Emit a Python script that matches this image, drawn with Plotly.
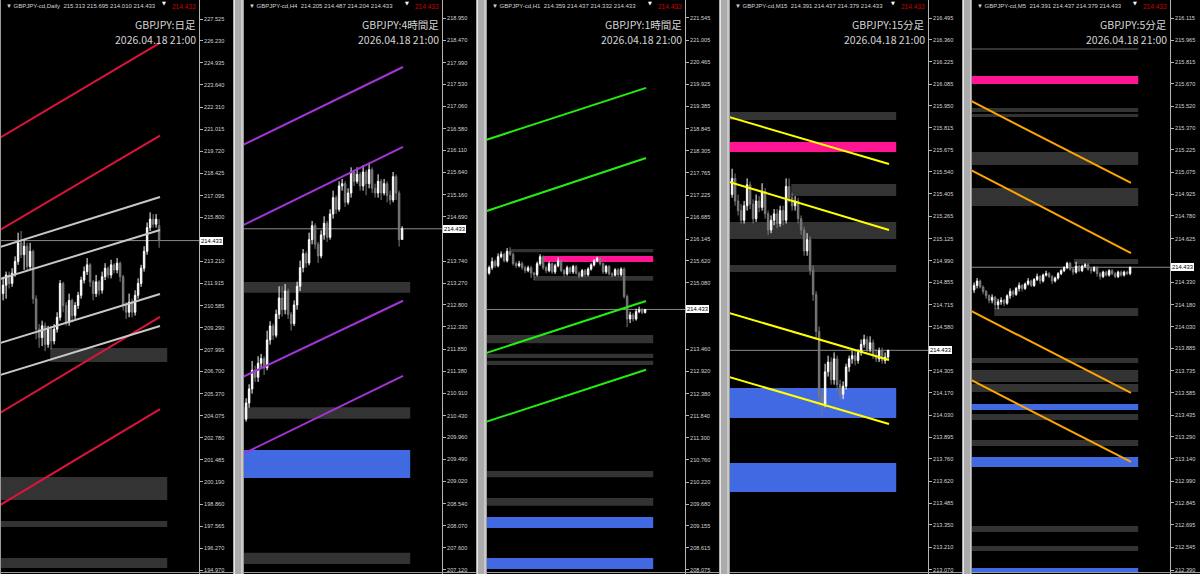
import plotly.graph_objects as go

W, H = 1200, 574

# ------------------------------------------------------------------ data
SYMBOL = "GBPJPY"
TF_CODES = ["Daily", "H4", "H1", "M15", "M5"]
TF_LABELS = ["日足", "4時間足", "1時間足", "15分足", "5分足"]
TIMESTAMP = "2026.04.18 21:00"
LAST_PRICE = 214.433
HEADER_OHLC = [
    [215.313, 215.695, 214.010, 214.433],
    [214.205, 214.487, 214.204, 214.433],
    [214.359, 214.437, 214.332, 214.433],
    [214.391, 214.437, 214.379, 214.433],
    [214.391, 214.437, 214.379, 214.433],
]

# Daily candles
d1_open = [211.3, 211.8, 212.4, 211.9, 212.5, 213.2, 214.3, 213.6, 214.1, 212.9, 213.8, 211.0, 209.2, 208.7,
           209.4, 208.3, 209.2, 208.5, 209.2, 209.9, 211.9, 210.6, 209.6, 210.9, 210.0, 210.6, 211.2, 212.1,
           212.6, 213.0, 212.0, 211.3, 212.0, 211.5, 212.3, 212.8, 212.4, 213.0, 212.7, 213.1, 212.3, 210.6,
           210.2, 210.8, 210.2, 211.2, 211.9, 212.8, 213.8, 215.2, 215.7, 215.4, 215.313]
d1_high = [212.3, 212.6, 212.6, 212.8, 213.5, 214.9, 215.0, 214.5, 214.3, 214.3, 213.9, 211.2, 209.5, 209.7,
           209.6, 209.4, 209.4, 209.5, 210.2, 212.1, 212.0, 210.8, 211.3, 211.0, 210.8, 211.4, 212.3, 212.9,
           213.4, 213.1, 212.1, 212.4, 212.1, 212.6, 213.1, 212.9, 213.3, 213.1, 213.4, 213.2, 212.4, 210.8,
           211.3, 211.0, 211.5, 212.2, 213.0, 214.1, 215.5, 216.1, 216.0, 216.0, 215.695]
d1_low = [210.9, 211.0, 211.6, 211.7, 212.3, 213.0, 213.4, 212.7, 212.6, 212.7, 210.7, 208.6, 208.1, 208.2,
          207.9, 208.1, 208.0, 208.3, 209.0, 209.7, 210.2, 209.4, 209.4, 209.6, 209.8, 210.4, 211.0, 211.9,
          212.4, 211.7, 210.9, 211.1, 211.2, 211.3, 212.1, 212.2, 212.2, 212.5, 212.5, 212.0, 210.3, 209.8,
          209.9, 209.9, 210.0, 211.0, 211.7, 212.6, 213.6, 215.0, 215.2, 215.2, 214.010]
d1_close = [211.8, 212.4, 211.9, 212.5, 213.2, 214.3, 213.6, 214.1, 212.9, 213.8, 211.0, 209.2, 208.7, 209.4,
            208.3, 209.2, 208.5, 209.2, 209.9, 211.9, 210.6, 209.6, 210.9, 210.0, 210.6, 211.2, 212.1, 212.6,
            213.0, 212.0, 211.3, 212.0, 211.5, 212.3, 212.8, 212.4, 213.0, 212.7, 213.1, 212.3, 210.6, 210.2,
            210.8, 210.2, 211.2, 211.9, 212.8, 213.8, 215.2, 215.7, 215.4, 215.7, 214.433]

# H4 candles
h4_open = [210.35, 210.70, 211.00, 211.40, 211.25, 211.55, 211.65, 211.45, 212.05, 212.35, 212.15, 212.60,
           212.95, 212.70, 213.10, 212.60, 212.40, 212.80, 213.20, 213.60, 213.90, 213.70, 214.20, 214.50,
           214.10, 213.85, 214.30, 214.55, 214.25, 214.75, 215.10, 214.85, 215.35, 215.40, 215.00, 215.20,
           215.65, 215.45, 215.60, 215.35, 215.65, 215.40, 215.70, 215.30, 215.20, 215.45, 215.20, 215.40,
           215.15, 215.05, 215.55, 215.20, 214.205]
h4_high = [210.80, 211.10, 211.60, 211.50, 211.70, 211.75, 211.70, 212.25, 212.45, 212.40, 212.70, 213.20,
           213.20, 213.25, 213.15, 212.65, 212.90, 213.30, 213.75, 214.00, 213.95, 214.35, 214.60, 214.55,
           214.15, 214.40, 214.70, 214.60, 214.85, 215.25, 215.15, 215.45, 215.50, 215.45, 215.30, 215.75,
           215.70, 215.75, 215.65, 215.80, 215.70, 215.85, 215.75, 215.40, 215.60, 215.50, 215.50, 215.45,
           215.25, 215.65, 215.60, 215.25, 214.487]
h4_low = [210.30, 210.60, 210.90, 211.15, 211.15, 211.45, 211.30, 211.40, 211.95, 212.05, 212.10, 212.50,
          212.55, 212.60, 212.50, 212.25, 212.35, 212.70, 213.10, 213.50, 213.60, 213.65, 214.10, 214.00,
          213.70, 213.80, 214.20, 214.15, 214.20, 214.65, 214.75, 214.80, 215.25, 214.90, 214.95, 215.10,
          215.35, 215.40, 215.25, 215.25, 215.15, 215.30, 215.20, 215.10, 215.10, 215.05, 215.15, 215.00,
          214.95, 215.00, 215.05, 214.05, 214.204]
h4_close = [210.70, 211.00, 211.40, 211.25, 211.55, 211.65, 211.45, 212.05, 212.35, 212.15, 212.60, 212.95,
            212.70, 213.10, 212.60, 212.40, 212.80, 213.20, 213.60, 213.90, 213.70, 214.20, 214.50, 214.10,
            213.85, 214.30, 214.55, 214.25, 214.75, 215.10, 214.85, 215.35, 215.40, 215.00, 215.20, 215.65,
            215.45, 215.60, 215.35, 215.65, 215.40, 215.70, 215.30, 215.20, 215.45, 215.20, 215.40, 215.15,
            215.05, 215.55, 215.20, 214.20, 214.433]

# H1 candles
h1_open = [215.32, 215.45, 215.60, 215.50, 215.72, 215.78, 215.62, 215.85, 215.78, 215.55, 215.50, 215.55,
           215.45, 215.38, 215.45, 215.32, 215.28, 215.55, 215.72, 215.45, 215.38, 215.55, 215.35, 215.50,
           215.62, 215.38, 215.30, 215.45, 215.35, 215.48, 215.32, 215.25, 215.38, 215.28, 215.42, 215.52,
           215.62, 215.68, 215.55, 215.35, 215.48, 215.30, 215.27, 215.40, 215.28, 215.42, 214.75, 214.20,
           214.30, 214.20, 214.38, 214.42, 214.359]
h1_high = [215.50, 215.70, 215.65, 215.80, 215.85, 215.82, 215.93, 215.95, 215.82, 215.60, 215.62, 215.60,
           215.50, 215.50, 215.50, 215.35, 215.60, 215.78, 215.75, 215.50, 215.60, 215.58, 215.55, 215.70,
           215.65, 215.42, 215.50, 215.48, 215.52, 215.52, 215.36, 215.42, 215.42, 215.46, 215.56, 215.66,
           215.72, 215.70, 215.58, 215.52, 215.52, 215.34, 215.44, 215.44, 215.46, 215.46, 214.80, 214.38,
           214.34, 214.45, 214.50, 214.46, 214.437]
h1_low = [215.28, 215.40, 215.45, 215.46, 215.68, 215.58, 215.58, 215.74, 215.50, 215.44, 215.46, 215.40,
          215.32, 215.34, 215.20, 215.15, 215.24, 215.50, 215.40, 215.32, 215.34, 215.30, 215.30, 215.46,
          215.34, 215.24, 215.26, 215.30, 215.30, 215.28, 215.20, 215.22, 215.24, 215.24, 215.38, 215.48,
          215.58, 215.50, 215.30, 215.30, 215.26, 215.22, 215.24, 215.24, 215.24, 214.70, 214.00, 214.10,
          214.14, 214.16, 214.34, 214.32, 214.332]
h1_close = [215.45, 215.60, 215.50, 215.72, 215.78, 215.62, 215.85, 215.78, 215.55, 215.50, 215.55, 215.45,
            215.38, 215.45, 215.32, 215.28, 215.55, 215.72, 215.45, 215.38, 215.55, 215.35, 215.50, 215.62,
            215.38, 215.30, 215.45, 215.35, 215.48, 215.32, 215.25, 215.38, 215.28, 215.42, 215.52, 215.62,
            215.68, 215.55, 215.35, 215.48, 215.30, 215.27, 215.40, 215.28, 215.42, 214.75, 214.20, 214.30,
            214.20, 214.38, 214.42, 214.36, 214.433]

# M15 candles
m15_open = [215.40, 215.50, 215.36, 215.30, 215.24, 215.33, 215.46, 215.34, 215.25, 215.36, 215.32, 215.42,
            215.28, 215.18, 215.24, 215.28, 215.22, 215.30, 215.24, 215.45, 215.38, 215.33, 215.36, 215.25,
            215.18, 215.05, 215.12, 214.93, 214.78, 214.55, 214.15, 214.10, 214.30, 214.36, 214.25, 214.38,
            214.22, 214.16, 214.21, 214.33, 214.38, 214.40, 214.37, 214.42, 214.47, 214.50, 214.44, 214.48,
            214.40, 214.38, 214.43, 214.37, 214.391]
m15_high = [215.56, 215.53, 215.40, 215.34, 215.36, 215.50, 215.48, 215.37, 215.40, 215.39, 215.47, 215.44,
            215.30, 215.27, 215.31, 215.31, 215.33, 215.33, 215.50, 215.50, 215.41, 215.39, 215.38, 215.27,
            215.20, 215.16, 215.14, 214.96, 214.80, 214.58, 214.20, 214.35, 214.40, 214.39, 214.42, 214.40,
            214.25, 214.24, 214.35, 214.40, 214.43, 214.43, 214.44, 214.50, 214.53, 214.52, 214.52, 214.50,
            214.44, 214.45, 214.45, 214.42, 214.437]
m15_low = [215.38, 215.33, 215.27, 215.22, 215.22, 215.30, 215.31, 215.22, 215.23, 215.29, 215.30, 215.25,
           215.15, 215.16, 215.21, 215.19, 215.20, 215.21, 215.22, 215.35, 215.30, 215.30, 215.22, 215.15,
           215.02, 215.02, 214.90, 214.74, 214.50, 214.08, 214.03, 214.08, 214.27, 214.22, 214.22, 214.18,
           214.12, 214.13, 214.19, 214.30, 214.35, 214.34, 214.35, 214.40, 214.45, 214.42, 214.42, 214.38,
           214.36, 214.36, 214.35, 214.35, 214.379]
m15_close = [215.50, 215.36, 215.30, 215.24, 215.33, 215.46, 215.34, 215.25, 215.36, 215.32, 215.42, 215.28,
             215.18, 215.24, 215.28, 215.22, 215.30, 215.24, 215.45, 215.38, 215.33, 215.36, 215.25, 215.18,
             215.05, 215.12, 214.93, 214.78, 214.55, 214.15, 214.10, 214.30, 214.36, 214.25, 214.38, 214.22,
             214.16, 214.21, 214.33, 214.38, 214.40, 214.37, 214.42, 214.47, 214.50, 214.44, 214.48, 214.40,
             214.38, 214.43, 214.37, 214.391, 214.433]

# M5 candles
m5_open = [214.28, 214.31, 214.34, 214.30, 214.27, 214.24, 214.21, 214.23, 214.18, 214.20, 214.21, 214.19,
           214.24, 214.27, 214.25, 214.29, 214.31, 214.29, 214.32, 214.34, 214.31, 214.35, 214.37, 214.34,
           214.38, 214.39, 214.37, 214.34, 214.36, 214.39, 214.41, 214.43, 214.46, 214.42, 214.40, 214.44,
           214.41, 214.44, 214.45, 214.42, 214.41, 214.43, 214.39, 214.37, 214.40, 214.38, 214.41, 214.39,
           214.37, 214.40, 214.38, 214.40, 214.391]
m5_high = [214.33, 214.36, 214.35, 214.31, 214.28, 214.25, 214.25, 214.24, 214.22, 214.23, 214.22, 214.25,
           214.29, 214.28, 214.30, 214.33, 214.32, 214.33, 214.36, 214.35, 214.36, 214.39, 214.38, 214.39,
           214.41, 214.40, 214.38, 214.37, 214.40, 214.42, 214.44, 214.47, 214.47, 214.43, 214.47, 214.45,
           214.45, 214.46, 214.46, 214.43, 214.44, 214.44, 214.40, 214.41, 214.41, 214.42, 214.42, 214.40,
           214.41, 214.41, 214.41, 214.41, 214.437]
m5_low = [214.26, 214.29, 214.29, 214.25, 214.22, 214.19, 214.19, 214.15, 214.15, 214.18, 214.17, 214.18,
          214.22, 214.23, 214.24, 214.27, 214.27, 214.28, 214.31, 214.30, 214.30, 214.34, 214.32, 214.33,
          214.37, 214.36, 214.32, 214.33, 214.35, 214.38, 214.40, 214.42, 214.41, 214.38, 214.39, 214.40,
          214.40, 214.43, 214.41, 214.39, 214.40, 214.37, 214.35, 214.36, 214.37, 214.37, 214.38, 214.36,
          214.36, 214.37, 214.37, 214.38, 214.379]
m5_close = [214.31, 214.34, 214.30, 214.27, 214.24, 214.21, 214.23, 214.18, 214.20, 214.21, 214.19, 214.24,
            214.27, 214.25, 214.29, 214.31, 214.29, 214.32, 214.34, 214.31, 214.35, 214.37, 214.34, 214.38,
            214.39, 214.37, 214.34, 214.36, 214.39, 214.41, 214.43, 214.46, 214.42, 214.40, 214.44, 214.41,
            214.44, 214.45, 214.42, 214.41, 214.43, 214.39, 214.37, 214.40, 214.38, 214.41, 214.39, 214.37,
            214.40, 214.38, 214.40, 214.391, 214.433]

# Trend / channel lines: price at the start bar and at the end bar
LINE_BARS = [-1.0, 52.3]
d1_line_start = [220.52, 215.06, 204.25, 198.81, 214.05, 212.16, 208.38, 206.49]
d1_line_end = [226.11, 220.64, 209.92, 204.48, 217.01, 215.06, 211.28, 209.39]
d1_line_kind = ["red", "red", "red", "red", "silver", "silver", "silver", "silver"]
h4_line_start = [216.23, 214.51, 211.26, 209.61]
h4_line_end = [217.90, 216.19, 212.89, 211.28]
h1_line_start = [218.57, 216.83, 213.37, 211.69]
h1_line_end = [219.84, 218.13, 214.64, 212.96]
m15_line_start = [215.881, 215.478, 214.665, 214.268]
m15_line_end = [215.589, 215.180, 214.373, 213.976]
m5_line_start = [215.555, 215.089, 214.138, 213.672]
m5_line_end = [215.002, 214.529, 213.585, 213.119]

# Supply / demand zones
ZONE_END_BAR = 54.7
d1_zone_top = [208.09, 200.47, 197.87, 195.68]
d1_zone_bot = [207.26, 199.11, 197.51, 195.09]
d1_zone_from = [15.7, -1, -1, -1]
d1_zone_kind = ["gray", "gray", "gray", "gray"]
h4_zone_top = [213.29, 210.61, 209.69, 207.49]
h4_zone_bot = [213.06, 210.36, 209.09, 207.25]
h4_zone_from = [-1, -1, -1, -1]
h4_zone_kind = ["gray", "gray", "blue", "gray"]
h1_zone_top = [215.91, 215.74, 215.25, 213.81, 213.35, 213.18, 210.49, 209.83, 209.37, 208.37]
h1_zone_bot = [215.83, 215.59, 215.13, 213.61, 213.25, 213.08, 210.34, 209.64, 209.10, 208.10]
h1_zone_from = [7.3, 18.3, 15.0, -1, -1, -1, -1, -1, -1, -1]
h1_zone_kind = ["gray", "pink", "gray", "gray", "gray", "gray", "gray", "gray", "blue", "blue"]
m15_zone_top = [215.912, 215.726, 215.465, 215.230, 214.963, 214.200, 213.734]
m15_zone_bot = [215.862, 215.664, 215.391, 215.124, 214.919, 214.013, 213.554]
m15_zone_from = [-1, -1, 19.7, -1, -1, -1, -1]
m15_zone_kind = ["gray", "pink", "gray", "gray", "gray", "blue", "blue"]
m5_zone_top = [215.913, 215.724, 215.508, 215.467, 215.211, 214.968, 214.489, 214.158, 213.821, 213.740,
               213.645, 213.510, 213.443, 213.267, 213.153, 212.687, 212.552, 212.404]
m5_zone_bot = [215.899, 215.670, 215.481, 215.447, 215.123, 214.846, 214.455, 214.104, 213.787, 213.659,
               213.591, 213.470, 213.402, 213.227, 213.085, 212.647, 212.518, 212.370]
m5_zone_from = [-1, -1, -1, -1, -1, -1, 33.3, 6.7, -1, -1, -1, -1, -1, -1, -1, -1, -1, -1]
m5_zone_kind = ["gray", "pink", "gray", "gray", "gray", "gray", "gray", "gray", "gray", "gray",
                "gray", "blue", "gray", "gray", "blue", "gray", "gray", "blue"]

# Price-axis tick labels
d1_ticks = [227.525, 226.230, 224.935, 223.640, 222.310, 221.015, 219.720, 218.425, 217.095, 215.800,
            213.210, 211.915, 210.585, 209.290, 207.995, 206.700, 205.370, 204.075, 202.780, 201.485,
            200.190, 198.860, 197.565, 196.270, 194.970]
h4_ticks = [218.950, 218.470, 217.990, 217.530, 217.060, 216.580, 216.110, 215.640, 215.160, 214.690,
            213.740, 213.270, 212.800, 212.330, 211.850, 211.380, 210.910, 210.430, 209.960,
            209.490, 209.020, 208.540, 208.070, 207.600, 207.120]
h1_ticks = [221.545, 221.005, 220.465, 219.925, 219.385, 218.845, 218.305, 217.765, 217.225, 216.685,
            216.145, 215.620, 215.080, 213.460, 212.920, 212.380, 211.840, 211.300, 210.760,
            210.220, 209.680, 209.155, 208.615, 208.075]
m15_ticks = [216.495, 216.360, 216.225, 216.085, 215.950, 215.815, 215.675, 215.540, 215.405, 215.265,
             215.125, 214.990, 214.855, 214.715, 214.580, 214.305, 214.170, 214.030, 213.895, 213.760,
             213.620, 213.485, 213.350, 213.210, 213.070]
m5_ticks = [216.115, 215.965, 215.815, 215.670, 215.520, 215.370, 215.225, 215.075, 214.925, 214.780,
            214.625, 214.330, 214.180, 214.030, 213.885, 213.735, 213.585, 213.435, 213.290,
            213.140, 212.990, 212.845, 212.695, 212.545, 212.390]

# ------------------------------------------------------------------ layout / style
PANEL_LEFT = [1, 244, 487, 730, 972]       # pixel x of each chart area
PLOT_W = 198                               # chart area width (px)
Y_RANGES = [[194.734, 228.648], [207.034, 219.336], [207.977, 221.984],
            [213.045, 216.607], [212.363, 216.2365]]
X_RANGE = [-0.7, 65.3]
LINE_COLORS = [{"red": "#DC143C", "silver": "#C8C8C8"}, "#A335D6", "#22EE11", "#FFFF00", "#FFA500"]
ZONE_COLORS = {"gray": "#333333", "blue": "#4169E1", "pink": "#FF1493"}
TXT = "#D4D4D4"

panels = [
    dict(o=d1_open, h=d1_high, l=d1_low, c=d1_close, ls=d1_line_start, le=d1_line_end, lk=d1_line_kind,
         zt=d1_zone_top, zb=d1_zone_bot, zf=d1_zone_from, zk=d1_zone_kind, ticks=d1_ticks),
    dict(o=h4_open, h=h4_high, l=h4_low, c=h4_close, ls=h4_line_start, le=h4_line_end, lk=None,
         zt=h4_zone_top, zb=h4_zone_bot, zf=h4_zone_from, zk=h4_zone_kind, ticks=h4_ticks),
    dict(o=h1_open, h=h1_high, l=h1_low, c=h1_close, ls=h1_line_start, le=h1_line_end, lk=None,
         zt=h1_zone_top, zb=h1_zone_bot, zf=h1_zone_from, zk=h1_zone_kind, ticks=h1_ticks),
    dict(o=m15_open, h=m15_high, l=m15_low, c=m15_close, ls=m15_line_start, le=m15_line_end, lk=None,
         zt=m15_zone_top, zb=m15_zone_bot, zf=m15_zone_from, zk=m15_zone_kind, ticks=m15_ticks),
    dict(o=m5_open, h=m5_high, l=m5_low, c=m5_close, ls=m5_line_start, le=m5_line_end, lk=None,
         zt=m5_zone_top, zb=m5_zone_bot, zf=m5_zone_from, zk=m5_zone_kind, ticks=m5_ticks),
]

fig = go.Figure()
shapes, annotations = [], []
layout = dict(width=W, height=H, margin=dict(l=0, r=0, t=0, b=0), paper_bgcolor="#000000",
              plot_bgcolor="#000000", showlegend=False, boxgap=0.3)


def px(x):
    return x / W


def py(y):
    return 1 - y / H


for k, p in enumerate(panels):
    n = k + 1
    xa = "x" if n == 1 else f"x{n}"
    ya = "y" if n == 1 else f"y{n}"
    L = PANEL_LEFT[k]
    R = L + PLOT_W
    nb = min(len(p["o"]), len(p["h"]), len(p["l"]), len(p["c"]))
    bars = list(range(nb))

    # zones (background)
    for top, bot, x0, kind in zip(p["zt"], p["zb"], p["zf"], p["zk"]):
        shapes.append(dict(type="rect", xref=xa, yref=ya, x0=x0, x1=ZONE_END_BAR, y0=bot, y1=top,
                           fillcolor=ZONE_COLORS[kind], line=dict(width=0), layer="below"))

    # current price line
    shapes.append(dict(type="line", xref=f"{xa} domain", yref=ya, x0=0, x1=1, y0=LAST_PRICE, y1=LAST_PRICE,
                       line=dict(color="#8a8a8a", width=1), layer="below"))

    fig.add_trace(go.Candlestick(
        x=bars, open=p["o"][:nb], high=p["h"][:nb], low=p["l"][:nb], close=p["c"][:nb],
        xaxis=xa, yaxis=ya, whiskerwidth=0,
        increasing=dict(line=dict(color="#FFFFFF", width=1), fillcolor="#FFFFFF"),
        decreasing=dict(line=dict(color="#7C7C7C", width=1), fillcolor="#6A6A6A"),
        hoverinfo="skip"))

    for i, (s, e) in enumerate(zip(p["ls"], p["le"])):
        col = LINE_COLORS[k][p["lk"][i]] if isinstance(LINE_COLORS[k], dict) else LINE_COLORS[k]
        fig.add_trace(go.Scatter(x=LINE_BARS, y=[s, e], mode="lines", xaxis=xa, yaxis=ya,
                                 line=dict(color=col, width=2), hoverinfo="skip"))

    xkey = "xaxis" if n == 1 else f"xaxis{n}"
    ykey = "yaxis" if n == 1 else f"yaxis{n}"
    layout[xkey] = dict(domain=[px(L), px(R)], range=X_RANGE, anchor=ya, visible=False,
                        rangeslider=dict(visible=False), fixedrange=True)
    layout[ykey] = dict(domain=[0, 1], range=Y_RANGES[k], anchor=xa, side="right", showline=True,
                        linecolor="#B4B4B4", linewidth=1, ticks="outside", ticklen=3, tickcolor="#B4B4B4",
                        tickvals=p["ticks"], ticktext=[f"{v:.3f}" for v in p["ticks"]],
                        tickfont=dict(family="Liberation Sans", size=5.6, color=TXT),
                        showgrid=False, zeroline=False, fixedrange=True)

    # panel frame lines (left, bottom) and the separator to the next window
    fr = L + 232 if n < 5 else W
    shapes.append(dict(type="line", xref="paper", yref="paper", x0=px(L - 0.5), x1=px(L - 0.5), y0=0, y1=1,
                       line=dict(color="#9A9A9A", width=1)))
    shapes.append(dict(type="line", xref="paper", yref="paper", x0=px(L - 1), x1=px(fr), y0=py(572.5),
                       y1=py(572.5), line=dict(color="#9A9A9A", width=1)))
    if n < 5:
        shapes.append(dict(type="rect", xref="paper", yref="paper", x0=px(fr), x1=px(L + 242), y0=0, y1=1,
                           fillcolor="#ABABAB", line=dict(width=0)))
        shapes.append(dict(type="line", xref="paper", yref="paper", x0=px(fr + 1.5), x1=px(fr + 1.5), y0=0,
                           y1=1, line=dict(color="#E6E6E6", width=1)))
        shapes.append(dict(type="line", xref="paper", yref="paper", x0=px(L + 241), x1=px(L + 241), y0=0,
                           y1=1, line=dict(color="#E6E6E6", width=1)))

    # header line
    o_, h_, l_, c_ = HEADER_OHLC[k]
    annotations.append(dict(xref="paper", yref="paper", x=px(L + 3), y=py(6.5), xanchor="left",
                            yanchor="middle", showarrow=False,
                            text=f"▼ {SYMBOL}-cd,{TF_CODES[k]}&nbsp;&nbsp;{o_:.3f} {h_:.3f} {l_:.3f} {c_:.3f}",
                            font=dict(family="Liberation Sans", size=6, color=TXT)))
    annotations.append(dict(xref="paper", yref="paper", x=px(R - 1), y=py(6.5), xanchor="right",
                            yanchor="middle", showarrow=False, text=f"{LAST_PRICE:.3f}",
                            font=dict(family="Liberation Sans", size=6.5, color="#D00000")))
    annotations.append(dict(xref="paper", yref="paper", x=px(L + 163), y=py(2.5), xanchor="center",
                            yanchor="middle", showarrow=False, text="▼",
                            font=dict(family="DejaVu Sans", size=5, color="#FFFFFF")))
    annotations.append(dict(xref="paper", yref="paper", x=px(R - 1), y=py(25), xanchor="right",
                            yanchor="middle", showarrow=False, text=f"{SYMBOL}:{TF_LABELS[k]}",
                            font=dict(family="Noto Sans CJK JP", size=10.5, color=TXT)))
    annotations.append(dict(xref="paper", yref="paper", x=px(R - 1), y=py(40), xanchor="right",
                            yanchor="middle", showarrow=False, text=TIMESTAMP,
                            font=dict(family="Noto Sans CJK JP", size=10.5, color=TXT)))
    # current price box on the axis
    annotations.append(dict(xref="paper", yref=ya, x=px(R + 1), y=LAST_PRICE, xanchor="left",
                            yanchor="middle", showarrow=False, text=f"{LAST_PRICE:.3f}",
                            bgcolor="#FFFFFF", bordercolor="#FFFFFF", borderpad=0,
                            font=dict(family="Liberation Sans", size=5.8, color="#000000")))

layout["shapes"] = shapes
layout["annotations"] = annotations
fig.update_layout(**layout)
fig.write_html("out.html", config={"displayModeBar": False},
               post_script="document.body.style.margin='0';document.body.style.overflow='hidden';")
